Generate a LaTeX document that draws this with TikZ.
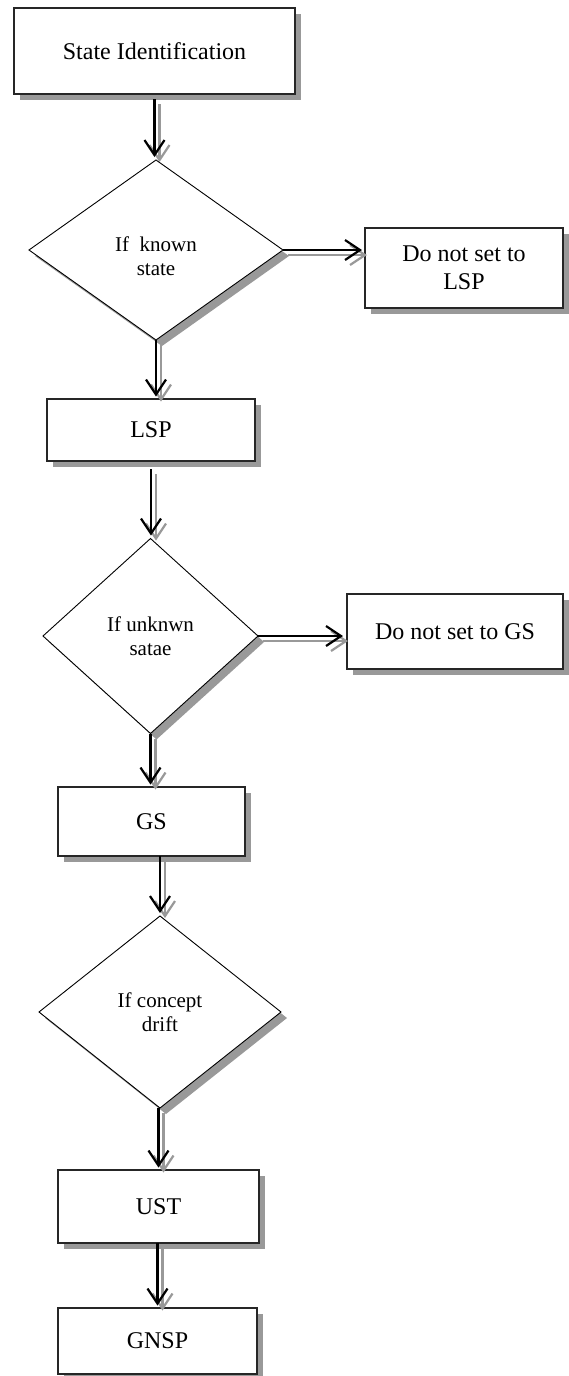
\documentclass[tikz,border=0pt]{standalone}
\usepackage{fontspec}
\setmainfont{Liberation Serif}
\usetikzlibrary{shapes.geometric,shadows,arrows.meta}
\begin{document}
\begin{tikzpicture}[x=1pt,y=-1pt,
  every node/.style={outer sep=0pt},
  shadowed/.style={drop shadow={shadow xshift=6pt,shadow yshift=-6pt,fill=black!40,opacity=1}},
  box/.style={rectangle,draw=black!85,line width=1.1pt,fill=white,inner sep=0pt,align=center,
    font=\fontsize{24}{27.6}\selectfont,shadowed},
  dia/.style={diamond,draw=black,line width=0.9pt,fill=white,inner sep=0pt,shadowed},
  dtext/.style={align=center,inner sep=0pt,font=\fontsize{21}{24}\selectfont},
  arr/.style={line width=2.2pt,shorten >=2.5pt,-{Straight Barb[length=15pt,width=20pt]}},
  arrshadow/.style={arr,draw=black!40,transform canvas={shift={(5pt,-5pt)}}},
]
\useasboundingbox (0,0) rectangle (568,1376);

\node[box,minimum width=281pt,minimum height=86pt] (b1) at (154.5,51) {State Identification};
\node[dia,minimum width=254pt,minimum height=180pt] (d1) at (156,250) {};
\node[dtext] (t1) at (156,256) {If\ \ known\\state};
\node[box,minimum width=198pt,minimum height=80pt] (n1) at (464,268) {Do not set to\\LSP};
\node[box,minimum width=208pt,minimum height=62pt] (b2) at (151,430) {LSP};
\node[dia,minimum width=215pt,minimum height=195pt] (d2) at (150.5,636) {};
\node[dtext] (t2) at (150.5,636) {If unknwn\\satae};
\node[box,minimum width=216pt,minimum height=75pt] (n2) at (455,631.5) {Do not set to GS};
\node[box,minimum width=187pt,minimum height=69pt] (b3) at (151.5,821.5) {GS};
\node[dia,minimum width=242pt,minimum height=192pt] (d3) at (160,1012) {};
\node[dtext] (t3) at (160,1012) {If concept\\drift};
\node[box,minimum width=201pt,minimum height=73pt] (b4) at (158.5,1206.5) {UST};
\node[box,minimum width=199pt,minimum height=66pt] (b5) at (157.5,1341) {GNSP};

% shadows of connectors
\draw[arrshadow,shorten <=5pt,shorten >=3pt] (b1.south) -- (b1.south |- d1.north);
\draw[arrshadow] (d1.south) -- (d1.south |- b2.north);
\draw[arrshadow,shorten <=8pt,shorten >=3pt] (b2.south) -- (b2.south |- d2.north);
\draw[arrshadow] (d2.south) -- (d2.south |- b3.north);
\draw[arrshadow,shorten >=3pt] (d3.north |- b3.south) -- (d3.north);
\draw[arrshadow] (b4.north |- d3.south) -- (b4.north);
\draw[arrshadow] (b5.north |- b4.south) -- (b5.north);
\draw[arrshadow,shorten >=3pt] (d1.east) -- (d1.east -| n1.west);
\draw[arrshadow,shorten >=4pt] (d2.east) -- (d2.east -| n2.west);

% connectors
\draw[arr,shorten <=5pt,shorten >=3pt] (b1.south) -- (b1.south |- d1.north);
\draw[arr] (d1.south) -- (d1.south |- b2.north);
\draw[arr,shorten <=8pt,shorten >=3pt] (b2.south) -- (b2.south |- d2.north);
\draw[arr] (d2.south) -- (d2.south |- b3.north);
\draw[arr,shorten >=3pt] (d3.north |- b3.south) -- (d3.north);
\draw[arr] (b4.north |- d3.south) -- (b4.north);
\draw[arr] (b5.north |- b4.south) -- (b5.north);
\draw[arr,shorten >=3pt] (d1.east) -- (d1.east -| n1.west);
\draw[arr,shorten >=4pt] (d2.east) -- (d2.east -| n2.west);
\end{tikzpicture}
\end{document}
